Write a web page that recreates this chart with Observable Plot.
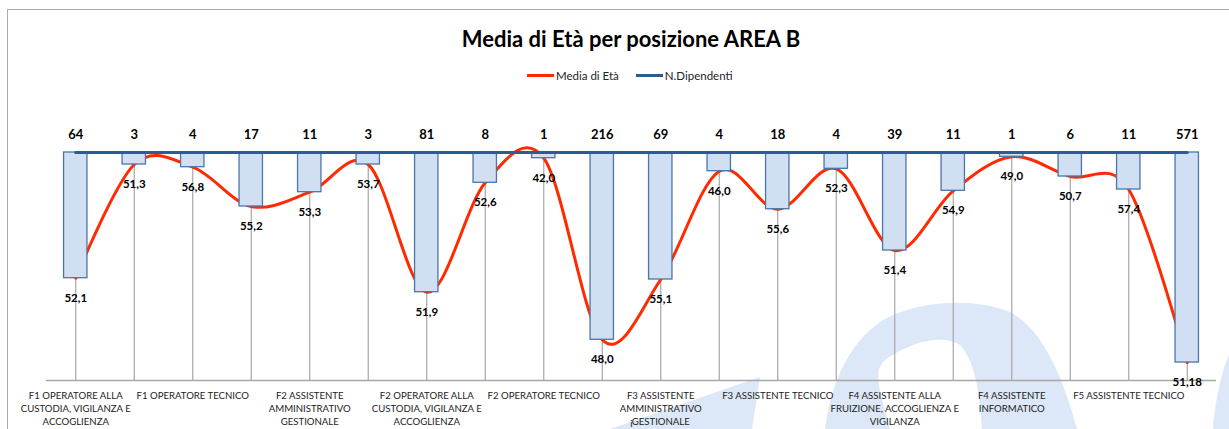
<!DOCTYPE html>
<html>
<head>
<meta charset="utf-8">
<script src="https://cdn.jsdelivr.net/npm/d3@7"></script>
<script src="https://cdn.jsdelivr.net/npm/@observablehq/plot@0.6"></script>
<style>
  html, body { margin: 0; padding: 0; background: #fff; }
  #wrap { position: relative; width: 1229px; height: 429px; overflow: hidden; font-family: Lato, "Open Sans", sans-serif; }
  #bg { position: absolute; left: 0; top: 0; }
  #frame { position: absolute; left: 7px; top: 9px; width: 1240px; height: 440px; border-top: 1.5px solid #ABABAB; border-left: 1.5px solid #ABABAB; }
  #title { position: absolute; left: 0; width: 1262px; top: 25px; text-align: center; font-weight: bold; font-size: 22px; color: #000; }
  #legend { position: absolute; left: 527px; top: 69px; font-size: 11.5px; color: #222; display: flex; align-items: center; }
  .sw { display: inline-block; width: 27px; height: 3px; margin-right: 2px; }
  #chart { position: absolute; left: 0; top: 0; }
</style>
</head>
<body>
<div id="wrap">
  <svg id="bg" width="1229" height="429">
    <path d="M610,429 L760,377 L752,429 Z" fill="#DCE7F7"/>
    <path d="M825,429 C830,390 845,345 883,320 C915,302 970,296 1010,312 C1045,330 1065,385 1077,429 L982,429 C980,395 975,360 960,345 C940,332 905,345 885,360 C872,372 880,390 890,429 Z" fill="#DCE7F7"/>
    <path d="M1229,355 C1222,370 1215,400 1213,429 L1229,429 Z" fill="#DCE7F7"/>
  </svg>
  <div id="frame"></div>
  <div id="chart"></div>
  <div id="title">Media di Età per posizione AREA B</div>
  <div id="legend">
    <span class="sw" style="background:#FF2A00"></span><span>Media di Età</span>
    <span class="sw" style="background:#2E5C8F; margin-left:17px"></span><span>N.Dipendenti</span>
  </div>
</div>
<script>
// Category tick labels (only every other category is labelled in the original)
const etichette = [
  "F1 OPERATORE ALLA\nCUSTODIA, VIGILANZA E\nACCOGLIENZA",
  "F1 OPERATORE TECNICO",
  "F2 ASSISTENTE\nAMMINISTRATIVO\nGESTIONALE",
  "F2 OPERATORE ALLA\nCUSTODIA, VIGILANZA E\nACCOGLIENZA",
  "F2 OPERATORE TECNICO",
  "F3 ASSISTENTE\nAMMINISTRATIVO\nGESTIONALE",
  "F3 ASSISTENTE TECNICO",
  "F4 ASSISTENTE ALLA\nFRUIZIONE, ACCOGLIENZA E\nVIGILANZA",
  "F4 ASSISTENTE\nINFORMATICO",
  "F5 ASSISTENTE TECNICO"
];
// N. dipendenti per position (labels above bars)
const nDipendenti = [64, 3, 4, 17, 11, 3, 81, 8, 1, 216, 69, 4, 18, 4, 39, 11, 1, 6, 11, 571];
// Media di età per position
const mediaEta = [52.1, 51.3, 56.8, 55.2, 53.3, 53.7, 51.9, 52.6, 42.0, 48.0, 55.1, 46.0, 55.6, 52.3, 51.4, 54.9, 49.0, 50.7, 57.4, 51.18];
const profondita = [125.7, 12, 14.7, 54, 39.7, 12, 139.7, 30.3, 5.7, 187.3, 127, 18.7, 56.7, 16.3, 98, 38.3, 4.3, 24, 37, 210];

const idx = d3.range(nDipendenti.length);
const dati = idx.map(i => ({i, n: nDipendenti[i], eta: mediaEta[i], prof: profondita[i]}));
const fmt = v => {
  const two = Math.abs(Math.round(v * 10) - v * 10) > 1e-6;
  return v.toFixed(two ? 2 : 1).replace(".", ",");
};

const chart = Plot.plot({
  width: 1229,
  height: 429,
  marginLeft: 46,
  marginRight: 13,
  marginTop: 152,
  marginBottom: 49,
  style: {background: "transparent", fontFamily: "Lato, 'Open Sans', sans-serif", overflow: "visible"},
  x: {type: "band", domain: idx, paddingInner: 0.6, paddingOuter: 0.3, round: false, axis: null},
  y: {domain: [0, 228], reverse: true, axis: null},
  marks: [
    Plot.ruleX(dati, {x: "i", y1: 0, y2: 228, stroke: "#A6A6A6", strokeWidth: 1.2}),
    Plot.line(dati, {x: "i", y: "prof", curve: "cardinal", tension: 0, stroke: "#FF2A00", strokeWidth: 3}),
    Plot.barY(dati, {x: "i", y1: 0, y2: "prof", fill: "#D0DFF2", stroke: "#4A76A8", strokeWidth: 1.3}),
    Plot.line(dati, {x: "i", y: 0, stroke: "#2E5C8F", strokeWidth: 3}),
    Plot.ruleY([228], {stroke: "#A6A6A6", strokeWidth: 1.3}),
    Plot.text(dati, {x: "i", y: 0, text: "n", dy: -18, fontWeight: "bold", fontSize: 13, fill: "#000"}),
    Plot.text(dati, {x: "i", y: "prof", text: d => fmt(d.eta), dy: 20, fontWeight: "bold", fontSize: 11.5, fill: "#000"}),
    Plot.axisX({
      ticks: idx.filter(i => i % 2 === 0),
      tickFormat: i => etichette[i / 2],
      tickSize: 0,
      tickPadding: 9,
      fontSize: 9.6,
      lineHeight: 1.38,
      fill: "#222"
    })
  ]
});
document.getElementById("chart").appendChild(chart);
</script>
</body>
</html>
